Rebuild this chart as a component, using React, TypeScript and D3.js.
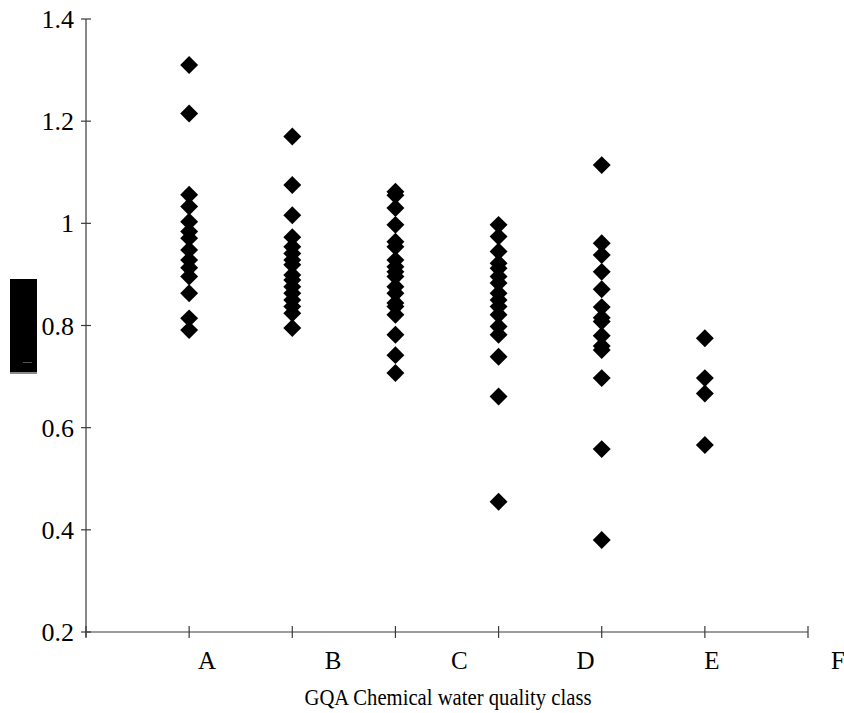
import { useEffect, useRef } from 'react';
import * as d3 from 'd3';

// GQA chemical water quality class -> ratio values
const classLabels = ['A', 'B', 'C', 'D', 'E', 'F'];
const classA = [1.31, 1.215, 1.056, 1.033, 1.003, 0.984, 0.971, 0.948, 0.928, 0.913, 0.896, 0.863, 0.814, 0.791];
const classB = [1.17, 1.075, 1.016, 0.973, 0.954, 0.941, 0.928, 0.919, 0.899, 0.889, 0.876, 0.863, 0.85, 0.837, 0.824, 0.795];
const classC = [1.062, 1.055, 1.03, 0.997, 0.964, 0.954, 0.928, 0.915, 0.905, 0.896, 0.876, 0.863, 0.844, 0.837, 0.821, 0.782, 0.742, 0.707];
const classD = [0.997, 0.974, 0.945, 0.922, 0.912, 0.896, 0.883, 0.863, 0.85, 0.837, 0.821, 0.798, 0.782, 0.739, 0.661, 0.455];
const classE = [1.114, 0.961, 0.938, 0.905, 0.871, 0.836, 0.815, 0.808, 0.78, 0.76, 0.752, 0.697, 0.558, 0.38];
const classF = [0.775, 0.697, 0.667, 0.566];
const yTicks = [0.2, 0.4, 0.6, 0.8, 1, 1.2, 1.4];
const xTitle = 'GQA Chemical water quality class';

const App = () => {
    const svgRef = useRef<SVGSVGElement>(null);

    useEffect(() => {
        const width = 844;
        const height = 713;
        const svg = d3.select(svgRef.current).attr('width', width).attr('height', height);
        svg.selectAll('*').remove();

        const left = 86, right = 808, top = 19, bottom = 632;
        const font = 'Liberation Serif';
        const axisColor = '#3a3a3a';

        const x = d3.scaleLinear().domain([0, 7]).range([left, right]);
        const y = d3.scaleLinear().domain([0.2, 1.4]).range([bottom, top]);
        // category labels sit on their own (offset) positions, like the original
        const xLabel = d3.scalePoint<string>().domain(classLabels).range([207, 838]);

        const columns = [classA, classB, classC, classD, classE, classF];
        const points = columns.flatMap((vals, i) => vals.map(v => ({ col: i + 1, v })));

        // redacted y-axis title block
        svg.append('rect').attr('x', 10).attr('y', 279).attr('width', 27).attr('height', 93).attr('fill', '#000');
        svg.append('rect').attr('x', 10).attr('y', 372).attr('width', 27).attr('height', 2).attr('fill', '#8a8a8a');
        svg.append('line').attr('x1', 23).attr('x2', 32).attr('y1', 362.5).attr('y2', 362.5)
            .attr('stroke', '#555').attr('stroke-width', 1);

        // axes lines
        svg.append('line').attr('x1', left).attr('x2', left).attr('y1', top).attr('y2', bottom + 5)
            .attr('stroke', axisColor).attr('stroke-width', 1.2);
        svg.append('line').attr('x1', left).attr('x2', right).attr('y1', bottom).attr('y2', bottom)
            .attr('stroke', axisColor).attr('stroke-width', 1.2);

        // y ticks + labels
        svg.selectAll('.y-tick')
            .data(yTicks)
            .enter()
            .append('line')
            .attr('class', 'y-tick')
            .attr('x1', left - 5).attr('x2', left + 5)
            .attr('y1', d => y(d)).attr('y2', d => y(d))
            .attr('stroke', axisColor).attr('stroke-width', 1.2);

        svg.selectAll('.y-label')
            .data(yTicks)
            .enter()
            .append('text')
            .attr('class', 'y-label')
            .attr('x', 74)
            .attr('y', d => y(d) + 9)
            .attr('text-anchor', 'end')
            .attr('font-family', font)
            .attr('font-size', 26)
            .attr('fill', '#000')
            .text(d => String(d));

        // x ticks
        svg.selectAll('.x-tick')
            .data(d3.range(0, 8))
            .enter()
            .append('line')
            .attr('class', 'x-tick')
            .attr('x1', d => x(d)).attr('x2', d => x(d))
            .attr('y1', bottom - 6).attr('y2', bottom + 6)
            .attr('stroke', axisColor).attr('stroke-width', 1.2);

        svg.selectAll('.x-label')
            .data(classLabels)
            .enter()
            .append('text')
            .attr('class', 'x-label')
            .attr('x', d => xLabel(d) as number)
            .attr('y', 669)
            .attr('text-anchor', 'middle')
            .attr('font-family', font)
            .attr('font-size', 25)
            .attr('fill', '#000')
            .text(d => d);

        svg.append('text')
            .attr('x', 448)
            .attr('y', 705)
            .attr('text-anchor', 'middle')
            .attr('textLength', 287)
            .attr('lengthAdjust', 'spacingAndGlyphs')
            .attr('font-family', font)
            .attr('font-size', 24)
            .attr('fill', '#000')
            .text(xTitle);

        // diamonds
        const diamond = d3.symbol().type(d3.symbolDiamond2).size(205);
        svg.selectAll('.pt')
            .data(points)
            .enter()
            .append('path')
            .attr('class', 'pt')
            .attr('transform', d => `translate(${x(d.col)},${y(d.v)})`)
            .attr('d', diamond)
            .attr('fill', '#000');
    }, []);

    return <svg ref={svgRef} style={{ position: 'absolute', left: 0, top: 0, background: '#fff' }} />;
};

export default App;
